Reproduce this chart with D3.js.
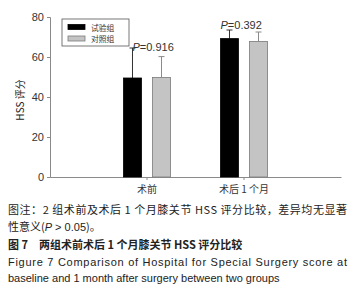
<!DOCTYPE html>
<html lang="zh">
<head>
    <meta charset="UTF-8">
    <title>HSS</title>
    <script src="https://cdn.jsdelivr.net/npm/d3@7.8.5/dist/d3.min.js"></script>
    <style>
        body { margin: 0; background: #fff; }
        text { font-family: "Liberation Sans", "Noto Sans CJK SC", sans-serif; }
        .cjk { font-family: "Noto Sans CJK SC", sans-serif; }
    </style>
</head>
<body>
<div id="chart"></div>
<script type="text/javascript">
    const groups = ["术前", "术后 1 个月"];
    const series = ["试验组", "对照组"];
    const trialMean = [49.5, 69.2];
    const trialErr = [15, 4.3];
    const controlMean = [49.8, 67.8];
    const controlErr = [10.4, 4.7];
    const pLabels = ["0.916", "0.392"];
    const yTicks = [0, 20, 40, 60, 80];

    const width = 362, height = 300;
    const svg = d3.select('#chart').append('svg')
        .attr('width', width).attr('height', height);

    const x = d3.scaleBand().domain(groups).range([50, 341]).paddingOuter(0.5).paddingInner(0);
    const xs = d3.scaleBand().domain(series).range([-23.5, 23.5]).paddingInner(0.38);
    const y = d3.scaleLinear().domain([0, 80]).range([177, 17]);

    const fills = {"试验组": "#000", "对照组": "#c4c4c4"};
    const strokes = {"试验组": "#000", "对照组": "#7a7a7a"};

    const data = [];
    groups.forEach((g, i) => {
        data.push({g: g, s: series[0], v: trialMean[i], e: trialErr[i]});
        data.push({g: g, s: series[1], v: controlMean[i], e: controlErr[i]});
    });

    // axes
    const yAxis = svg.append("g").attr("transform", "translate(50,0)")
        .call(d3.axisLeft(y).tickValues(yTicks).tickSize(3).tickPadding(3));
    yAxis.select(".domain").attr("stroke", "#8a8a8a");
    yAxis.selectAll(".tick line").attr("stroke", "#8a8a8a");
    yAxis.selectAll("text").attr("font-size", 11).attr("fill", "#333");

    const xAxis = svg.append("g").attr("transform", "translate(0,177)")
        .call(d3.axisBottom(x).tickSize(3).tickPadding(6).tickSizeOuter(0));
    xAxis.select(".domain").attr("stroke", "#8a8a8a");
    xAxis.selectAll(".tick line").attr("stroke", "#8a8a8a");
    xAxis.selectAll("text").attr("class", "cjk").attr("font-size", 10).attr("fill", "#333");

    // error bars
    const cx = d => x(d.g) + x.bandwidth() / 2 + xs(d.s) + xs.bandwidth() / 2;
    svg.append("g").selectAll("line.err").data(data).join("line")
        .attr("x1", cx).attr("x2", cx)
        .attr("y1", d => y(d.v)).attr("y2", d => y(d.v + d.e))
        .attr("stroke", d => d.s === series[0] ? "#333" : "#8a8a8a");
    svg.append("g").selectAll("line.cap").data(data).join("line")
        .attr("x1", d => cx(d) - 3).attr("x2", d => cx(d) + 3)
        .attr("y1", d => y(d.v + d.e)).attr("y2", d => y(d.v + d.e))
        .attr("stroke", d => d.s === series[0] ? "#333" : "#8a8a8a");

    // bars
    svg.append("g").selectAll("rect").data(data).join("rect")
        .attr("x", d => x(d.g) + x.bandwidth() / 2 + xs(d.s))
        .attr("width", xs.bandwidth())
        .attr("y", d => y(d.v))
        .attr("height", d => y(0) - y(d.v))
        .attr("fill", d => fills[d.s])
        .attr("stroke", d => strokes[d.s]).attr("stroke-width", 0.8);

    // P labels
    const pY = [y(d3.max([trialMean[0], controlMean[0]])) - 26, y(trialMean[1] + trialErr[1]) - 1];
    const pt = svg.append("g").selectAll("text").data(pLabels).join("text")
        .attr("x", (d, i) => x(groups[i]) + x.bandwidth() / 2 + xs(series[0]) + (i === 0 ? xs.bandwidth() / 2 : 0))
        .attr("y", (d, i) => pY[i])
        .attr("font-size", 11).attr("fill", "#333");
    pt.append("tspan").attr("font-style", "italic").text("P");
    pt.append("tspan").text(d => "=" + d);

    // legend
    const lg = svg.append("g");
    lg.append("rect").attr("x", 62).attr("y", 19).attr("width", 67).attr("height", 27)
        .attr("fill", "#fff").attr("stroke", "#555").attr("stroke-width", 0.8);
    series.forEach((s, i) => {
        lg.append("rect").attr("x", 68).attr("y", 24.5 + i * 11.5).attr("width", 17).attr("height", 5)
            .attr("fill", fills[s]).attr("stroke", strokes[s]).attr("stroke-width", 0.8);
        lg.append("text").attr("class", "cjk").attr("x", 91).attr("y", 27 + i * 11.5)
            .attr("dominant-baseline", "central")
            .attr("font-size", 7.8).attr("fill", "#333").text(s);
    });

    // y label
    svg.append("text").attr("class", "cjk")
        .attr("transform", "translate(24,100) rotate(-90)")
        .attr("text-anchor", "middle").attr("font-size", 10).attr("fill", "#222")
        .text("HSS 评分");

    // caption
    const cap = svg.append("g").attr("fill", "#222");
    cap.append("text").attr("class", "cjk").attr("x", 8).attr("y", 214).attr("font-size", 11)
        .attr("textLength", 339).attr("lengthAdjust", "spacing")
        .text("图注：2 组术前及术后 1 个月膝关节 HSS 评分比较，差异均无显著");
    const l2 = cap.append("text").attr("class", "cjk").attr("x", 8).attr("y", 231).attr("font-size", 11);
    l2.append("tspan").text("性意义(");
    l2.append("tspan").attr("font-style", "italic").style("font-family", "Liberation Sans").text("P");
    l2.append("tspan").style("font-family", "Liberation Sans").text(" > 0.05");
    l2.append("tspan").text(")。");
    cap.append("text").attr("class", "cjk").attr("x", 8).attr("y", 249).attr("font-size", 11)
        .attr("font-weight", "bold").text("图 7　两组术前术后 1 个月膝关节 HSS 评分比较");
    cap.append("text").attr("x", 8).attr("y", 266).attr("font-size", 11)
        .attr("textLength", 339).attr("lengthAdjust", "spacing")
        .text("Figure 7   Comparison of Hospital for Special Surgery score at");
    cap.append("text").attr("x", 8).attr("y", 282).attr("font-size", 11)
        .text("baseline and 1 month after surgery between two groups");
</script>
</body>
</html>
